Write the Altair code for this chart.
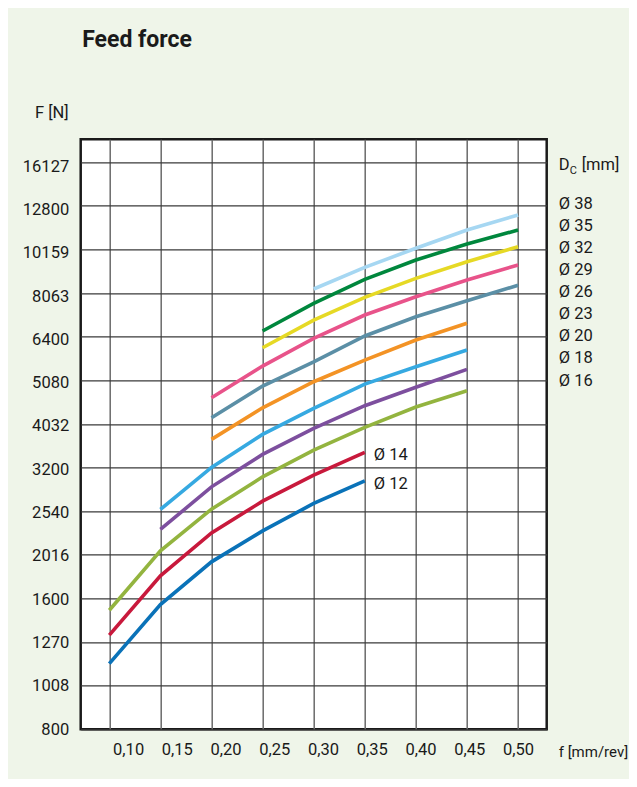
import altair as alt
import pandas as pd

# ---- data ----
feed = [0.10, 0.15, 0.20, 0.25, 0.30, 0.35, 0.40, 0.45, 0.50]
y_ticks = [800, 1008, 1270, 1600, 2016, 2540, 3200, 4032, 5080, 6400, 8063, 10159, 12800, 16127]

d12 = [1133, 1549, 1942, 2288, 2646, 2982, None, None, None]
d14 = [1317, 1803, 2264, 2678, 3074, 3467, None, None, None]
d16 = [1503, 2058, 2567, 3046, 3509, 3958, 4410, 4805, None]
d18 = [None, 2305, 2889, 3430, 3937, 4440, 4895, 5381, None]
d20 = [None, 2563, 3202, 3814, 4377, 4978, 5456, 5962, None]
d23 = [None, None, 3714, 4391, 5040, 5654, 6286, 6868, None]
d26 = [None, None, 4165, 4926, 5602, 6422, 7112, 7740, 8400]
d29 = [None, None, 4630, 5477, 6343, 7176, 7906, 8640, 9353]
d32 = [None, None, None, 6035, 6988, 7880, 8716, 9519, 10305]
d35 = [None, None, None, 6593, 7636, 8671, 9603, 10455, 11257]
d38 = [None, None, None, None, 8236, 9240, 10218, 11257, 12190]

names = ["Ø 12", "Ø 14", "Ø 16", "Ø 18", "Ø 20", "Ø 23", "Ø 26", "Ø 29", "Ø 32", "Ø 35", "Ø 38"]
series = [d12, d14, d16, d18, d20, d23, d26, d29, d32, d35, d38]
colors = ["#0a72b8", "#c8193c", "#93b43f", "#7d4f9e", "#36a9e1", "#f39325",
          "#5b8fa6", "#e8538a", "#e6d925", "#00873d", "#a6d7f2"]

legend_names = ["Ø 38", "Ø 35", "Ø 32", "Ø 29", "Ø 26", "Ø 23", "Ø 20", "Ø 18", "Ø 16"]
end_labels = ["Ø 14", "Ø 12"]
end_values = [3467, 2982]
end_feed = [0.35, 0.35]

rows = []
for name, vals in zip(names, series):
    for f, v in zip(feed, vals):
        if v is not None:
            rows.append({"f": f, "F": v, "D": name})
df = pd.DataFrame(rows)

FONT = "Roboto"
TXT = "#1a1a1a"

x_scale = alt.Scale(domain=[0.072, 0.528], nice=False, zero=False)
y_scale = alt.Scale(type="log", domain=[800, 18200], nice=False)

x_axis = alt.Axis(
    values=feed, title=None, ticks=False, domain=False,
    labelExpr="replace(format(datum.value, '.2f'), '.', ',')",
    labelPadding=12, labelOffset=alt.ExprRef("(0.5 - datum.value) * 47"),
    gridColor="#6a6a6a", gridWidth=1.5,
    labelFont=FONT, labelFontSize=16.5, labelColor=TXT,
)
y_axis = alt.Axis(
    values=y_ticks, format="d", title=None, ticks=False, domain=False,
    labelPadding=12, labelOffset=alt.ExprRef("log(datum.value / 800) / log(2) * 3 * 0.3"),
    gridColor="#3a3a3a", gridWidth=1.2,
    labelFont=FONT, labelFontSize=16.5, labelColor=TXT,
)

base = alt.Chart(df)

lines = base.mark_line(strokeWidth=3.6, strokeCap="butt", clip=False).encode(
    x=alt.X("f:Q", scale=x_scale, axis=x_axis),
    y=alt.Y("F:Q", scale=y_scale, axis=y_axis),
    color=alt.Color("D:N", scale=alt.Scale(domain=names, range=colors), legend=None),
    order=alt.Order("f:Q"),
)

end_df = pd.DataFrame({"f": end_feed, "F": end_values, "t": end_labels})
end_text = alt.Chart(end_df).mark_text(
    align="left", baseline="middle", dx=9, dy=3, font=FONT, fontSize=16.5, color=TXT
).encode(x=alt.X("f:Q", scale=x_scale), y=alt.Y("F:Q", scale=y_scale), text="t:N")

one = pd.DataFrame({"a": [0]})

title = alt.Chart(one).mark_text(
    text="Feed force", align="left", baseline="alphabetic", font=FONT,
    fontSize=23, fontWeight="bold", color=TXT
).encode(x=alt.value(1.5), y=alt.value(-92))

y_title = alt.Chart(one).mark_text(
    text="F [N]", align="right", baseline="alphabetic", font=FONT,
    fontSize=16.5, color=TXT
).encode(x=alt.value(-12), y=alt.value(-21))

x_title = alt.Chart(one).mark_text(
    text="f [mm/rev]", align="left", baseline="alphabetic", font=FONT,
    fontSize=15, color=TXT
).encode(x=alt.value(478), y=alt.value(618))

dc_D = alt.Chart(one).mark_text(
    text="D", align="left", baseline="alphabetic", font=FONT, fontSize=16.5, color=TXT
).encode(x=alt.value(478), y=alt.value(31))
dc_c = alt.Chart(one).mark_text(
    text="C", align="left", baseline="alphabetic", font=FONT, fontSize=11, color=TXT
).encode(x=alt.value(489), y=alt.value(35))
dc_mm = alt.Chart(one).mark_text(
    text="[mm]", align="left", baseline="alphabetic", font=FONT, fontSize=16.5, color=TXT
).encode(x=alt.value(501), y=alt.value(31))

legend = alt.Chart(one).mark_text(
    align="left", baseline="alphabetic", font=FONT, fontSize=16.5, color=TXT, lineHeight=22.1
).encode(x=alt.value(478), y=alt.value(69.5), text=alt.value(legend_names))

chart = alt.layer(
    lines, end_text, title, y_title, x_title, dc_D, dc_c, dc_mm, legend
).properties(
    width=466, height=590,
    background="#eff5e9",
    padding={"left": 72.7, "top": 131.3, "right": 82.3, "bottom": 49.7},
    autosize=alt.AutoSizeParams(type="none"),
).configure_view(
    fill="white", stroke="#1a1a1a", strokeWidth=2.5
)

chart.save("out.html", embed_options={"renderer": "svg", "actions": False})
